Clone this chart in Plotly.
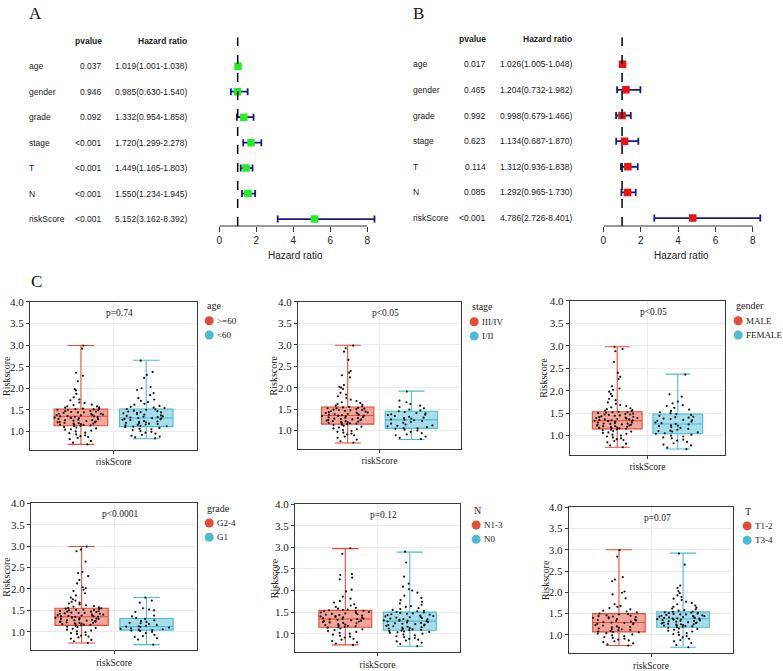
import plotly.graph_objects as go

W, H = 783, 671
SANS = "Liberation Sans, Arial, sans-serif"
SERIF = "Liberation Serif, Times New Roman, serif"

# ---------------- Forest plot data ----------------
variables = ["age", "gender", "grade", "stage", "T", "N", "riskScore"]

uni_pvalue = ["0.037", "0.946", "0.092", "<0.001", "<0.001", "<0.001", "<0.001"]
uni_hr = [1.019, 0.985, 1.332, 1.720, 1.449, 1.550, 5.152]
uni_low = [1.001, 0.630, 0.954, 1.299, 1.165, 1.234, 3.162]
uni_high = [1.038, 1.540, 1.858, 2.278, 1.803, 1.945, 8.392]

multi_pvalue = ["0.017", "0.465", "0.992", "0.623", "0.114", "0.085", "<0.001"]
multi_hr = [1.026, 1.204, 0.998, 1.134, 1.312, 1.292, 4.786]
multi_low = [1.005, 0.732, 0.679, 0.687, 0.936, 0.965, 2.726]
multi_high = [1.048, 1.982, 1.466, 1.870, 1.838, 1.730, 8.401]

hr_ticks = [0, 2, 4, 6, 8]

# ---------------- Box plot data ----------------
panel_vars = ["age", "stage", "gender", "grade", "N", "T"]
panel_groups = [[">=60", "<60"], ["III/IV", "I/II"], ["MALE", "FEMALE"],
                ["G2-4", "G1"], ["N1-3", "N0"], ["T1-2", "T3-4"]]
panel_pvalues = ["p=0.74", "p<0.05", "p<0.05", "p<0.0001", "p=0.12", "p=0.07"]
y_ticks = [1.0, 1.5, 2.0, 2.5, 3.0, 3.5, 4.0]

# box statistics per panel: [group1, group2] -> (min, q1, median, q3, max)
stats_age = [(0.70, 1.13, 1.35, 1.52, 2.99), (0.83, 1.11, 1.31, 1.52, 2.65)]
stats_stage = [(0.71, 1.15, 1.35, 1.55, 2.99), (0.79, 1.05, 1.25, 1.45, 1.92)]
stats_gender = [(0.74, 1.15, 1.33, 1.53, 2.98), (0.70, 1.04, 1.26, 1.48, 2.37)]
stats_grade = [(0.74, 1.15, 1.35, 1.55, 2.99), (0.70, 1.04, 1.12, 1.31, 1.80)]
stats_n = [(0.74, 1.15, 1.34, 1.54, 2.97), (0.71, 1.08, 1.29, 1.50, 2.89)]
stats_t = [(0.75, 1.07, 1.29, 1.50, 3.00), (0.71, 1.18, 1.38, 1.54, 2.92)]

# sample points
age_ge60 = [2.99, 2.92, 2.36, 2.29, 2.16, 1.98, 1.95, 1.87, 1.79, 1.74, 1.72, 1.67, 1.66, 1.62, 1.61,
            1.58, 1.58, 1.56, 1.55, 1.53, 1.53, 1.52, 1.50, 1.50, 1.49, 1.47, 1.47, 1.46, 1.44, 1.44,
            1.43, 1.41, 1.41, 1.40, 1.38, 1.38, 1.37, 1.36, 1.35, 1.35, 1.34, 1.32, 1.32, 1.31, 1.29,
            1.29, 1.28, 1.26, 1.26, 1.25, 1.23, 1.22, 1.22, 1.20, 1.19, 1.18, 1.18, 1.16, 1.15, 1.15,
            1.14, 1.13, 1.12, 1.10, 1.09, 1.07, 1.05, 1.04, 1.02, 1.00, 0.97, 0.96, 0.93, 0.91, 0.89,
            0.87, 0.85, 0.82, 0.78, 0.74, 0.70, 1.39, 1.33, 1.27, 1.21, 1.17, 1.45, 1.51, 1.24, 1.30]
age_lt60 = [2.64, 2.38, 2.31, 2.24, 2.03, 2.00, 1.96, 1.89, 1.84, 1.77, 1.74, 1.71, 1.68, 1.64, 1.62,
            1.59, 1.57, 1.55, 1.54, 1.52, 1.51, 1.50, 1.48, 1.47, 1.46, 1.44, 1.43, 1.42, 1.40, 1.39,
            1.37, 1.36, 1.35, 1.33, 1.32, 1.31, 1.31, 1.30, 1.28, 1.27, 1.26, 1.24, 1.23, 1.22, 1.20,
            1.19, 1.18, 1.17, 1.15, 1.14, 1.13, 1.12, 1.11, 1.10, 1.08, 1.06, 1.05, 1.03, 1.01, 0.99,
            0.97, 0.95, 0.92, 0.90, 0.88, 0.86, 0.84, 1.29, 1.34, 1.45, 1.21, 1.16]
stage_34 = [2.98, 2.92, 2.84, 2.65, 2.39, 2.35, 2.29, 2.24, 2.06, 2.02, 2.00, 1.97, 1.88, 1.84, 1.80,
            1.76, 1.72, 1.69, 1.66, 1.64, 1.62, 1.60, 1.58, 1.57, 1.55, 1.54, 1.53, 1.52, 1.51, 1.50,
            1.49, 1.48, 1.47, 1.46, 1.45, 1.44, 1.43, 1.42, 1.41, 1.40, 1.39, 1.38, 1.37, 1.36, 1.35,
            1.35, 1.34, 1.33, 1.32, 1.31, 1.30, 1.29, 1.28, 1.27, 1.26, 1.25, 1.24, 1.23, 1.22, 1.21,
            1.20, 1.19, 1.18, 1.17, 1.16, 1.15, 1.14, 1.13, 1.11, 1.09, 1.07, 1.05, 1.03, 1.01, 0.99,
            0.97, 0.95, 0.93, 0.91, 0.89, 0.86, 0.83, 0.79, 0.75, 0.72, 1.42, 1.37, 1.31, 1.26, 1.18,
            1.48, 1.52, 1.22, 1.34]
stage_12 = [1.91, 1.70, 1.66, 1.62, 1.58, 1.55, 1.52, 1.49, 1.47, 1.45, 1.43, 1.41, 1.40, 1.38, 1.36,
            1.34, 1.32, 1.30, 1.28, 1.26, 1.25, 1.24, 1.22, 1.20, 1.18, 1.16, 1.14, 1.12, 1.10, 1.08,
            1.06, 1.05, 1.04, 1.02, 1.00, 0.97, 0.94, 0.91, 0.89, 0.86, 0.83, 0.80, 1.37, 1.29, 1.11]
gender_male = [2.98, 2.93, 2.88, 2.64, 2.40, 2.31, 2.26, 2.10, 2.05, 2.02, 1.98, 1.93, 1.88, 1.82, 1.79,
               1.74, 1.71, 1.68, 1.66, 1.63, 1.61, 1.59, 1.57, 1.56, 1.55, 1.53, 1.52, 1.52, 1.50, 1.49,
               1.48, 1.47, 1.46, 1.45, 1.44, 1.42, 1.41, 1.40, 1.39, 1.38, 1.37, 1.36, 1.35, 1.34, 1.33,
               1.33, 1.32, 1.31, 1.30, 1.29, 1.28, 1.27, 1.26, 1.25, 1.24, 1.23, 1.22, 1.21, 1.20, 1.19,
               1.18, 1.17, 1.16, 1.15, 1.14, 1.13, 1.12, 1.10, 1.09, 1.07, 1.06, 1.04, 1.02, 1.00, 0.98,
               0.96, 0.94, 0.92, 0.90, 0.88, 0.85, 0.82, 0.78, 0.74, 1.43, 1.36, 1.29, 1.24, 1.17, 1.47,
               1.51, 1.39, 1.21, 1.34, 1.27]
gender_female = [2.36, 1.92, 1.87, 1.76, 1.72, 1.68, 1.66, 1.62, 1.58, 1.55, 1.52, 1.50, 1.48, 1.46,
                 1.44, 1.42, 1.40, 1.38, 1.37, 1.35, 1.33, 1.31, 1.29, 1.28, 1.26, 1.25, 1.23, 1.21,
                 1.19, 1.17, 1.15, 1.13, 1.11, 1.09, 1.07, 1.05, 1.04, 1.02, 1.00, 0.98, 0.96, 0.94,
                 0.91, 0.89, 0.86, 0.83, 0.80, 0.78, 0.73, 0.70, 1.41, 1.34, 1.22, 1.10]
grade_g24 = [2.99, 2.92, 2.88, 2.64, 2.40, 2.37, 2.30, 2.21, 2.13, 2.04, 2.02, 1.98, 1.95, 1.90, 1.85,
             1.80, 1.76, 1.73, 1.70, 1.68, 1.66, 1.64, 1.62, 1.60, 1.59, 1.57, 1.56, 1.55, 1.54, 1.53,
             1.52, 1.51, 1.50, 1.49, 1.48, 1.47, 1.46, 1.45, 1.44, 1.43, 1.42, 1.41, 1.40, 1.39, 1.38,
             1.37, 1.36, 1.35, 1.35, 1.34, 1.33, 1.32, 1.31, 1.30, 1.29, 1.28, 1.27, 1.26, 1.25, 1.24,
             1.23, 1.22, 1.21, 1.20, 1.19, 1.18, 1.17, 1.16, 1.15, 1.14, 1.12, 1.11, 1.09, 1.07, 1.05,
             1.03, 1.01, 0.99, 0.97, 0.95, 0.93, 0.91, 0.89, 0.87, 0.84, 0.81, 0.78, 0.74, 1.44, 1.38,
             1.33, 1.27, 1.21, 1.47, 1.51, 1.36, 1.30, 1.42, 1.24, 1.18]
grade_g1 = [1.80, 1.73, 1.68, 1.55, 1.52, 1.50, 1.46, 1.38, 1.36, 1.32, 1.30, 1.27, 1.25, 1.23, 1.20,
            1.18, 1.16, 1.14, 1.13, 1.12, 1.11, 1.10, 1.08, 1.07, 1.06, 1.05, 1.04, 1.03, 1.02, 1.00,
            0.97, 0.93, 0.90, 0.88, 0.85, 0.82, 0.70, 1.21]
n_13 = [2.98, 2.85, 2.38, 2.36, 2.30, 2.26, 2.02, 1.98, 1.86, 1.81, 1.76, 1.72, 1.68, 1.65, 1.62,
        1.60, 1.58, 1.56, 1.55, 1.54, 1.53, 1.52, 1.50, 1.49, 1.48, 1.47, 1.45, 1.44, 1.43, 1.41,
        1.40, 1.39, 1.38, 1.36, 1.35, 1.34, 1.34, 1.33, 1.31, 1.30, 1.29, 1.28, 1.26, 1.25, 1.24,
        1.22, 1.21, 1.20, 1.18, 1.17, 1.16, 1.15, 1.14, 1.12, 1.10, 1.08, 1.06, 1.04, 1.02, 1.00,
        0.98, 0.95, 0.93, 0.91, 0.88, 0.86, 0.83, 0.80, 0.77, 0.74, 1.42, 1.37, 1.32, 1.27, 1.19,
        1.46, 1.51]
n_0 = [2.90, 2.65, 2.32, 2.16, 2.09, 2.03, 2.00, 1.95, 1.88, 1.83, 1.78, 1.74, 1.70, 1.67, 1.64,
       1.62, 1.59, 1.57, 1.55, 1.53, 1.52, 1.50, 1.49, 1.48, 1.46, 1.45, 1.44, 1.42, 1.41, 1.40,
       1.38, 1.37, 1.36, 1.34, 1.33, 1.32, 1.31, 1.30, 1.29, 1.28, 1.27, 1.26, 1.25, 1.23, 1.22,
       1.21, 1.19, 1.18, 1.17, 1.15, 1.14, 1.13, 1.11, 1.10, 1.09, 1.08, 1.07, 1.06, 1.05, 1.04,
       1.03, 1.02, 1.00, 0.98, 0.96, 0.94, 0.92, 0.90, 0.88, 0.86, 0.84, 0.82, 0.79, 0.76, 0.71,
       1.43, 1.35, 1.24, 1.16, 1.12, 1.47, 1.39, 1.30, 1.20]
t_12 = [2.99, 2.84, 2.36, 2.30, 2.26, 2.02, 1.99, 1.95, 1.86, 1.72, 1.68, 1.66, 1.63, 1.60, 1.57,
        1.55, 1.53, 1.50, 1.49, 1.48, 1.46, 1.45, 1.43, 1.42, 1.40, 1.39, 1.37, 1.36, 1.34, 1.33,
        1.31, 1.30, 1.29, 1.28, 1.26, 1.25, 1.23, 1.22, 1.20, 1.18, 1.17, 1.15, 1.14, 1.12, 1.11,
        1.09, 1.08, 1.07, 1.06, 1.04, 1.03, 1.01, 0.99, 0.97, 0.95, 0.93, 0.91, 0.89, 0.87, 0.85,
        0.83, 0.80, 0.78, 0.75, 1.41, 1.35, 1.27, 1.19, 1.13, 1.44]
t_34 = [2.91, 2.65, 2.16, 2.10, 2.03, 1.98, 1.93, 1.89, 1.85, 1.82, 1.78, 1.75, 1.72, 1.69, 1.66,
        1.64, 1.62, 1.60, 1.58, 1.57, 1.55, 1.54, 1.53, 1.52, 1.51, 1.50, 1.49, 1.48, 1.47, 1.46,
        1.45, 1.44, 1.43, 1.42, 1.41, 1.40, 1.39, 1.38, 1.38, 1.37, 1.36, 1.35, 1.34, 1.33, 1.32,
        1.31, 1.30, 1.29, 1.28, 1.27, 1.26, 1.25, 1.24, 1.23, 1.22, 1.21, 1.20, 1.19, 1.18, 1.17,
        1.15, 1.14, 1.12, 1.10, 1.08, 1.06, 1.04, 1.02, 1.00, 0.97, 0.94, 0.91, 0.88, 0.85, 0.81,
        0.76, 0.71, 1.44, 1.40, 1.36, 1.33, 1.29, 1.25, 1.48, 1.52, 1.22, 1.43, 1.35]

panel_stats = [stats_age, stats_stage, stats_gender, stats_grade, stats_n, stats_t]
panel_points = [[age_ge60, age_lt60], [stage_34, stage_12], [gender_male, gender_female],
                [grade_g24, grade_g1], [n_13, n_0], [t_12, t_34]]

# ---------------- layout helpers ----------------
def px(x):
    return x / W


def py(y):
    return 1 - y / H


RED = "#E64B35"
BLUE = "#4DBBD5"
FILLS = ["rgba(230,75,53,0.5)", "rgba(77,187,213,0.5)"]
LINES = [RED, BLUE]

fig = go.Figure()
annotations = []
shapes = []
layout = dict(width=W, height=H, margin=dict(l=0, r=0, t=0, b=0),
              paper_bgcolor="white", plot_bgcolor="white", showlegend=False,
              boxmode="overlay")

# ---------------- Forest plots ----------------
forest_specs = [
    dict(n=1, x0=217.0, x1=380.0, ppu=18.58, row0=61.0, step=25.83, lab=24, pv=101, hrx=187,
         tx=294, color="#22EE22", hr=uni_hr, lo=uni_low, hi=uni_high, p=uni_pvalue, letter="A", lx=33),
    dict(n=2, x0=602.7, x1=770.0, ppu=18.75, row0=59.0, step=26.0, lab=410, pv=487, hrx=573,
         tx=681.5, color="#EE1111", hr=multi_hr, lo=multi_low, hi=multi_high, p=multi_pvalue, letter="B", lx=417),
]
TOP, BOT = 32.0, 223.0
rows = list(range(len(variables)))
for s in forest_specs:
    n = s["n"]
    xa = "x" if n == 1 else f"x{n}"
    ya = "y" if n == 1 else f"y{n}"
    i_top = (TOP - s["row0"]) / s["step"]
    i_bot = (BOT - s["row0"]) / s["step"]
    layout[f"xaxis{'' if n == 1 else n}"] = dict(
        domain=[px(s["x0"]), px(s["x1"])], range=[0, (s["x1"] - s["x0"]) / s["ppu"]],
        anchor=ya, tickvals=hr_ticks, ticks="outside", ticklen=5, tickcolor="#333",
        showline=False, showgrid=False, zeroline=False,
        tickfont=dict(family=SANS, size=10, color="#222"))
    layout[f"yaxis{'' if n == 1 else n}"] = dict(
        domain=[py(BOT), py(TOP)], range=[i_bot, i_top], anchor=xa, visible=False)
    fig.add_trace(go.Scatter(
        x=s["hr"], y=rows, mode="markers", xaxis=xa, yaxis=ya, hoverinfo="skip",
        marker=dict(symbol="square", size=7.5, color=s["color"]),
        error_x=dict(type="data", symmetric=False,
                     array=[h - v for h, v in zip(s["hi"], s["hr"])],
                     arrayminus=[v - l for v, l in zip(s["hr"], s["lo"])],
                     color="#1A1A8C", thickness=1.8, width=3.5)))
    shapes.append(dict(type="line", xref=xa, yref=f"{ya} domain", x0=hr_ticks[0], x1=hr_ticks[-1],
                       y0=0, y1=0, line=dict(color="#333", width=1)))
    shapes.append(dict(type="line", xref=xa, yref=f"{ya} domain", x0=1, x1=1, y0=0, y1=1,
                       line=dict(color="black", width=1.5, dash="dash")))
    annotations.append(dict(text="<b>pvalue</b>", xref="paper", yref=ya, x=px(s["pv"]), y=-1,
                            xanchor="right", yanchor="middle", showarrow=False,
                            font=dict(family=SANS, size=8.5, color="#222")))
    annotations.append(dict(text="<b>Hazard ratio</b>", xref="paper", yref=ya, x=px(s["hrx"]), y=-1,
                            xanchor="right", yanchor="middle", showarrow=False,
                            font=dict(family=SANS, size=8.5, color="#222")))
    for i, v in enumerate(variables):
        annotations.append(dict(text=v, xref="paper", yref=ya, x=px(s["lab"]), y=i,
                                xanchor="left", yanchor="middle", showarrow=False,
                                font=dict(family=SANS, size=8.5, color="#222")))
        annotations.append(dict(text=s["p"][i], xref="paper", yref=ya, x=px(s["pv"]), y=i,
                                xanchor="right", yanchor="middle", showarrow=False,
                                font=dict(family=SANS, size=8.5, color="#222")))
        annotations.append(dict(text=f"{s['hr'][i]:.3f}({s['lo'][i]:.3f}-{s['hi'][i]:.3f})",
                                xref="paper", yref=ya, x=px(s["hrx"]), y=i,
                                xanchor="right", yanchor="middle", showarrow=False,
                                font=dict(family=SANS, size=8.5, color="#222")))
    annotations.append(dict(text="Hazard ratio", xref="paper", yref="paper", x=px(s["tx"]), y=py(253),
                            xanchor="center", yanchor="middle", showarrow=False,
                            font=dict(family=SANS, size=10, color="#222")))
    annotations.append(dict(text=s["letter"], xref="paper", yref="paper", x=px(s["lx"]), y=py(8),
                            xanchor="center", yanchor="middle", showarrow=False,
                            font=dict(family=SERIF, size=17, color="#111")))

annotations.append(dict(text="C", xref="paper", yref="paper", x=px(34), y=py(279),
                        xanchor="center", yanchor="middle", showarrow=False,
                        font=dict(family=SERIF, size=17, color="#111")))

# ---------------- Box plots ----------------
panel_boxes = [(27, 195, 300, 450), (296, 460, 300, 449), (569, 725, 299, 455),
               (28, 195, 504, 653), (293, 459, 505, 655), (568, 733, 508, 656)]
legend_anchor = [(207, 304), (473, 305), (738, 304), (207, 509), (475, 511), (747, 512)]
ylab_x = [4, 272, 543, 4, 272, 544]
GROUP_POS = [-0.195, 0.195]
BOXW = 0.32
Y_RANGE = [0.57, 4.0]

for k in range(6):
    n = k + 3
    xa, ya = f"x{n}", f"y{n}"
    l, r, t, b = panel_boxes[k]
    layout[f"xaxis{n}"] = dict(
        domain=[px(l), px(r)], range=[-0.5, 0.5], anchor=ya,
        tickvals=[0], ticktext=["riskScore"], showgrid=True, gridcolor="#EBEBEB",
        showline=True, mirror=True, linecolor="#3a3a3a", linewidth=1, zeroline=False,
        ticks="outside", ticklen=3, tickcolor="#3a3a3a",
        tickfont=dict(family=SERIF, size=9.5, color="#222"))
    layout[f"yaxis{n}"] = dict(
        domain=[py(b), py(t)], range=Y_RANGE, anchor=xa,
        tickvals=y_ticks, ticktext=[f"{v:.1f}" for v in y_ticks],
        showgrid=True, gridcolor="#EBEBEB", showline=True, mirror=True,
        linecolor="#3a3a3a", linewidth=1, zeroline=False,
        ticks="outside", ticklen=3, tickcolor="#3a3a3a",
        tickfont=dict(family=SERIF, size=11, color="#222"))
    for g in range(2):
        mn, q1, med, q3, mx = panel_stats[k][g]
        fig.add_trace(go.Box(
            x=[GROUP_POS[g]], q1=[q1], median=[med], q3=[q3], lowerfence=[mn], upperfence=[mx],
            width=BOXW, whiskerwidth=0.5, boxpoints=False, fillcolor=FILLS[g],
            line=dict(color=LINES[g], width=1.1), xaxis=xa, yaxis=ya, hoverinfo="skip"))
        vals = panel_points[k][g]
        fig.add_trace(go.Box(
            x=[GROUP_POS[g]] * len(vals), y=vals, width=BOXW, boxpoints="all", jitter=1,
            pointpos=0, fillcolor="rgba(0,0,0,0)", line=dict(color="rgba(0,0,0,0)", width=0),
            marker=dict(color="#111", size=2.2), xaxis=xa, yaxis=ya, hoverinfo="skip"))
    annotations.append(dict(text=panel_pvalues[k], xref=xa, yref=f"{ya} domain", x=0, y=1,
                            xshift=6, yshift=-11, xanchor="center", yanchor="middle",
                            showarrow=False, font=dict(family=SERIF, size=9.5, color="#222")))
    annotations.append(dict(text="Riskscore", xref="paper", yref="paper", x=px(ylab_x[k]),
                            y=py((t + b) / 2), textangle=-90, xanchor="center", yanchor="middle",
                            showarrow=False, font=dict(family=SERIF, size=10, color="#222")))
    cx, ty = legend_anchor[k]
    annotations.append(dict(text=panel_vars[k], xref="paper", yref="paper", x=px(cx - 4.5), y=py(ty),
                            xanchor="left", yanchor="middle", showarrow=False,
                            font=dict(family=SERIF, size=10, color="#222")))
    for g in range(2):
        yy = ty + 15 + 14.5 * g
        shapes.append(dict(type="circle", xref="paper", yref="paper",
                           xsizemode="pixel", ysizemode="pixel", xanchor=px(cx), yanchor=py(yy),
                           x0=-4.5, x1=4.5, y0=-4.5, y1=4.5,
                           fillcolor=LINES[g], line=dict(width=0)))
        annotations.append(dict(text=panel_groups[k][g], xref="paper", yref="paper", x=px(cx + 5.5),
                                y=py(yy), xanchor="left", yanchor="middle", showarrow=False,
                                font=dict(family=SERIF, size=9, color="#222")))

layout["annotations"] = annotations
layout["shapes"] = shapes
fig.update_layout(**layout)
fig.write_html("out.html", config={"displayModeBar": False},
               post_script="document.body.style.margin='0';document.body.style.overflow='hidden';")
